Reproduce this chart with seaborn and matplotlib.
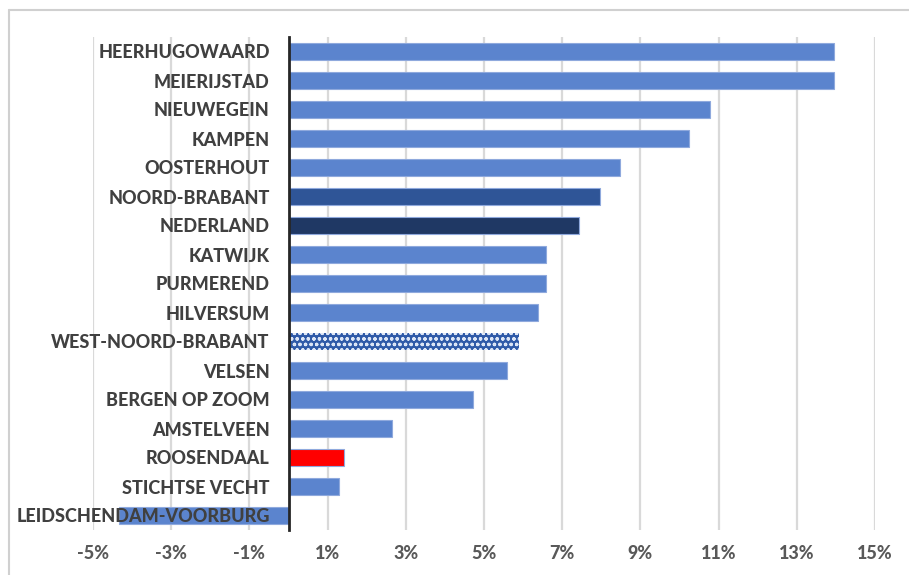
import matplotlib
matplotlib.use("Agg")
import matplotlib.pyplot as plt
from matplotlib.lines import Line2D
import seaborn as sns
import pandas as pd

categories = ["HEERHUGOWAARD", "MEIERIJSTAD", "NIEUWEGEIN", "KAMPEN", "OOSTERHOUT",
              "NOORD-BRABANT", "NEDERLAND", "KATWIJK", "PURMEREND", "HILVERSUM",
              "WEST-NOORD-BRABANT", "VELSEN", "BERGEN OP ZOOM", "AMSTELVEEN",
              "ROOSENDAAL", "STICHTSE VECHT", "LEIDSCHENDAM-VOORBURG"]
values = [13.96, 13.94, 10.78, 10.25, 8.48, 7.96, 7.42, 6.58, 6.58, 6.38,
          5.90, 5.59, 4.73, 2.64, 1.43, 1.28, -4.33]
tick_values = [-5, -3, -1, 1, 3, 5, 7, 9, 11, 13, 15]
tick_labels = ["-5%", "-3%", "-1%", "1%", "3%", "5%", "7%", "9%", "11%", "13%", "15%"]

base_blue = "#5B84CE"
special_colors = {"NOORD-BRABANT": "#2F5597", "NEDERLAND": "#1F3864",
                  "ROOSENDAAL": "#FF0000", "WEST-NOORD-BRABANT": "#2F5AA8"}
palette = {c: special_colors.get(c, base_blue) for c in categories}

df = pd.DataFrame({"gemeente": categories, "groei": values})

sns.set_theme(style="white")
plt.rcParams['font.family'] = ['Lato', 'DejaVu Sans']
plt.rcParams['hatch.linewidth'] = 0.9

fig = plt.figure(figsize=(9.09, 5.75), dpi=100)
ax = fig.add_axes([93/909, 45/575, 782/909, 493/575])

sns.barplot(data=df, y="gemeente", x="groei", hue="gemeente", palette=palette,
            order=categories, hue_order=categories, orient="h", width=0.57,
            legend=False, ax=ax, saturation=1, zorder=3)

for patch, cat in zip(ax.patches, categories):
    patch.set_edgecolor("#8FA9DD")
    patch.set_linewidth(0.8)
    if cat == "WEST-NOORD-BRABANT":
        patch.set_hatch("ooo")
        patch.set_edgecolor("#DDE6F6")
        patch.set_linewidth(0.0)

ax.set_xlim(-5, 15)
ax.set_ylim(len(categories) - 0.5, -0.5)
ax.set_xticks(tick_values)
ax.set_xticklabels(tick_labels)
ax.xaxis.grid(True, color="#D9D9D9", linewidth=1.6, zorder=0)
ax.set_axisbelow(True)
ax.yaxis.set_zorder(5)

for s in ["top", "right", "bottom"]:
    ax.spines[s].set_visible(False)
ax.spines["left"].set_position(("data", 0))
ax.spines["left"].set_color("#262626")
ax.spines["left"].set_linewidth(2.0)
ax.spines["left"].set_zorder(6)

ax.tick_params(axis="x", length=0, pad=11, labelsize=13, labelcolor="#595959")
ax.tick_params(axis="y", length=0, pad=13.5, labelsize=13, labelcolor="#404040")
for lbl in ax.get_xticklabels() + ax.get_yticklabels():
    lbl.set_fontweight("black")
ax.set_xlabel("")
ax.set_ylabel("")

# outer chart border (partially visible)
fig.add_artist(Line2D([9/909, 1.0], [1 - 10/575, 1 - 10/575], transform=fig.transFigure,
                      color="#D0D0D0", linewidth=1.5))
fig.add_artist(Line2D([9/909, 9/909], [0, 1 - 10/575], transform=fig.transFigure,
                      color="#D0D0D0", linewidth=1.5))

fig.savefig("out.png", dpi=100)
